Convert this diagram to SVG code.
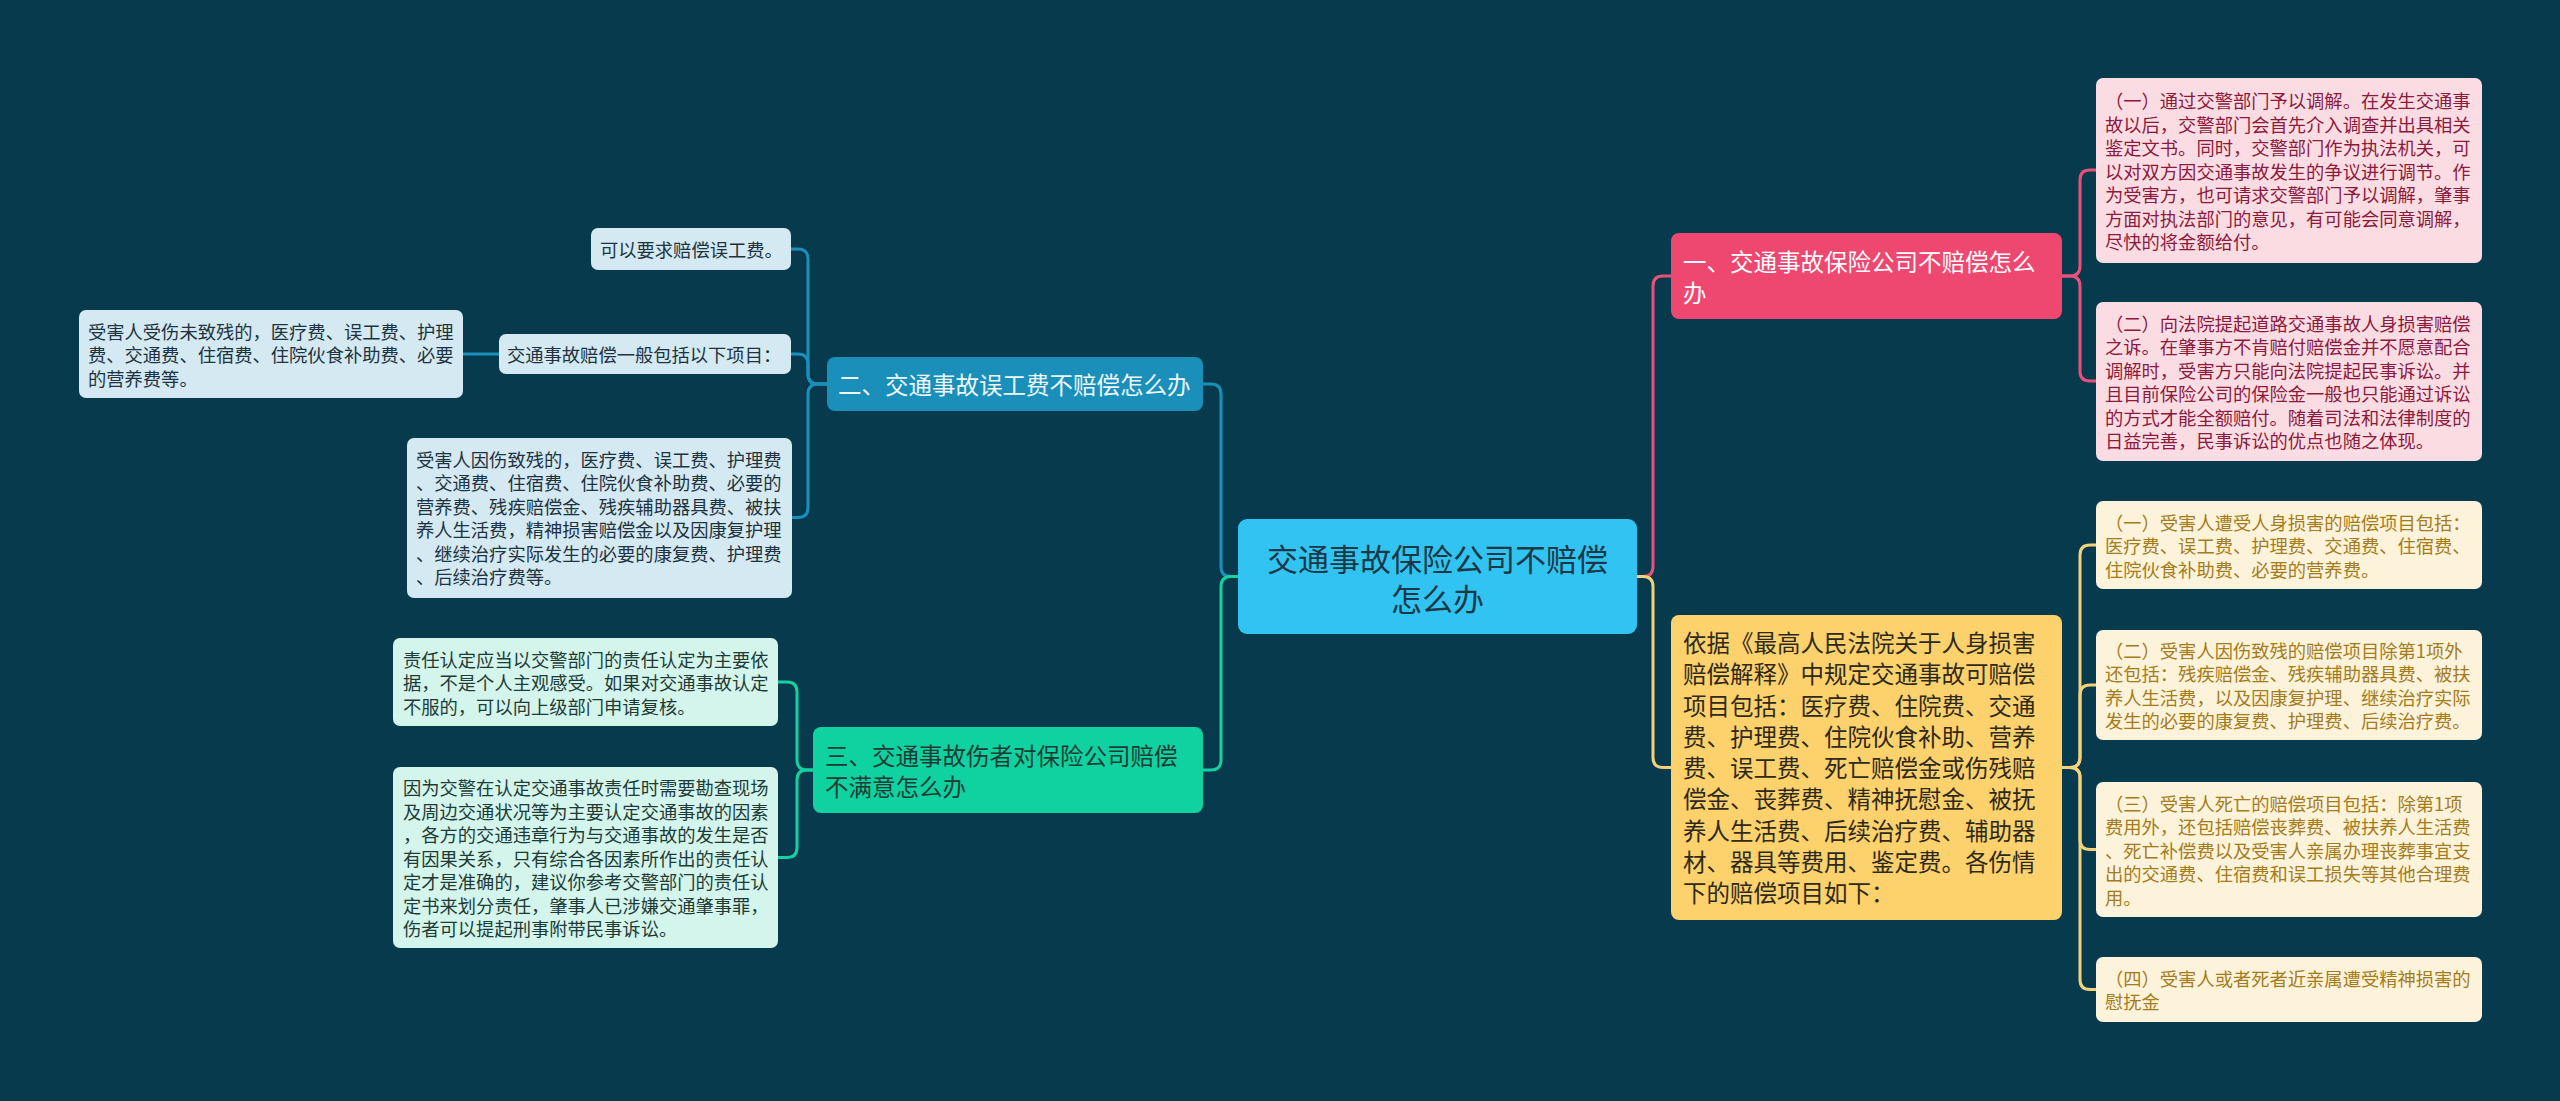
<svg xmlns="http://www.w3.org/2000/svg" width="2560" height="1101" viewBox="0 0 2560 1101">
<style>
text{font-family:"Noto Sans CJK SC","Noto Sans CJK JP",sans-serif;}
.leaf{font-size:18.3px;}
.mid{font-size:23.5px;}
.c{fill:none;stroke-width:3;stroke-linecap:round;stroke-linejoin:round;}
</style>
<rect width="2560" height="1101" fill="#083a4e"/>
<g id="connectors">
<path class="c" stroke="#e8507a" d="M1637,576.5 H1643 Q1653,576.5 1653,566.5 V286 Q1653,276 1663,276 H1671"/>
<path class="c" stroke="#f3d27a" d="M1637,576.5 H1643 Q1653,576.5 1653,586.5 V757.5 Q1653,767.5 1663,767.5 H1671"/>
<path class="c" stroke="#e8507a" d="M2062,276 H2070 Q2080,276 2080,266 V180 Q2080,170 2090,170 H2096"/>
<path class="c" stroke="#e8507a" d="M2062,276 H2070 Q2080,276 2080,286 V371 Q2080,381 2090,381 H2096"/>
<path class="c" stroke="#f3d27a" d="M2062,767.5 H2070 Q2080,767.5 2080,757.5 V555 Q2080,545 2090,545 H2096"/>
<path class="c" stroke="#f3d27a" d="M2062,767.5 H2070 Q2080,767.5 2080,757.5 V695 Q2080,685 2090,685 H2096"/>
<path class="c" stroke="#f3d27a" d="M2062,767.5 H2070 Q2080,767.5 2080,777.5 V839.5 Q2080,849.5 2090,849.5 H2096"/>
<path class="c" stroke="#f3d27a" d="M2062,767.5 H2070 Q2080,767.5 2080,777.5 V979.5 Q2080,989.5 2090,989.5 H2096"/>
<path class="c" stroke="#1a8fbb" d="M1238,576.5 H1231 Q1221,576.5 1221,566.5 V394 Q1221,384 1211,384 H1203"/>
<path class="c" stroke="#14d1a2" d="M1238,576.5 H1231 Q1221,576.5 1221,586.5 V760 Q1221,770 1211,770 H1203"/>
<path class="c" stroke="#1a8fbb" d="M827,384 H818 Q808,384 808,374 V259 Q808,249 798,249 H791"/>
<path class="c" stroke="#1a8fbb" d="M827,384 H818 Q808,384 808,374 V364 Q808,354 798,354 H791"/>
<path class="c" stroke="#1a8fbb" d="M827,384 H818 Q808,384 808,394 V507.5 Q808,517.5 798,517.5 H792"/>
<path class="c" stroke="#1a8fbb" d="M499,354 H463"/>
<path class="c" stroke="#14d1a2" d="M813,770 H807 Q797,770 797,760 V692 Q797,682 787,682 H778"/>
<path class="c" stroke="#14d1a2" d="M813,770 H807 Q797,770 797,780 V847.5 Q797,857.5 787,857.5 H778"/>
</g>
<g id="root">
<rect x="1238" y="519" width="399" height="115" rx="9" fill="#31c3f2"/>
<text x="1437.5" y="570.5" text-anchor="middle" font-size="31" fill="#1b3846">交通事故保险公司不赔偿</text>
<text x="1437.5" y="610.5" text-anchor="middle" font-size="31" fill="#1b3846">怎么办</text>
</g>
<g id="n1">
<rect x="1671" y="233" width="391" height="86" rx="8" fill="#ef4870"/>
<text class="mid" x="1683" y="270.5" fill="#ffffff">一、交通事故保险公司不赔偿怎么</text>
<text class="mid" x="1683" y="301.5" fill="#ffffff">办</text>
</g>
<g id="n1a">
<rect x="2096" y="78" width="386" height="185" rx="7" fill="#fbdce3"/>
<g class="leaf" fill="#8b1a3c">
<text x="2105" y="108">（一）通过交警部门予以调解。在发生交通事</text>
<text x="2105" y="131.5">故以后，交警部门会首先介入调查并出具相关</text>
<text x="2105" y="155">鉴定文书。同时，交警部门作为执法机关，可</text>
<text x="2105" y="178.5">以对双方因交通事故发生的争议进行调节。作</text>
<text x="2105" y="202">为受害方，也可请求交警部门予以调解，肇事</text>
<text x="2105" y="225.5">方面对执法部门的意见，有可能会同意调解，</text>
<text x="2105" y="249">尽快的将金额给付。</text>
</g>
</g>
<g id="n1b">
<rect x="2096" y="302" width="386" height="159" rx="7" fill="#fbdce3"/>
<g class="leaf" fill="#8b1a3c">
<text x="2105" y="330.75">（二）向法院提起道路交通事故人身损害赔偿</text>
<text x="2105" y="354.25">之诉。在肇事方不肯赔付赔偿金并不愿意配合</text>
<text x="2105" y="377.75">调解时，受害方只能向法院提起民事诉讼。并</text>
<text x="2105" y="401.25">且目前保险公司的保险金一般也只能通过诉讼</text>
<text x="2105" y="424.75">的方式才能全额赔付。随着司法和法律制度的</text>
<text x="2105" y="448.25">日益完善，民事诉讼的优点也随之体现。</text>
</g>
</g>
<g id="n4">
<rect x="1671" y="615" width="391" height="305" rx="8" fill="#fdd16c"/>
<g class="mid" fill="#2d2a1c">
<text x="1683" y="652">依据《最高人民法院关于人身损害</text>
<text x="1683" y="683.25">赔偿解释》中规定交通事故可赔偿</text>
<text x="1683" y="714.5">项目包括：医疗费、住院费、交通</text>
<text x="1683" y="745.75">费、护理费、住院伙食补助、营养</text>
<text x="1683" y="777">费、误工费、死亡赔偿金或伤残赔</text>
<text x="1683" y="808.25">偿金、丧葬费、精神抚慰金、被抚</text>
<text x="1683" y="839.5">养人生活费、后续治疗费、辅助器</text>
<text x="1683" y="870.75">材、器具等费用、鉴定费。各伤情</text>
<text x="1683" y="902">下的赔偿项目如下：</text>
</g>
</g>
<g id="n4a">
<rect x="2096" y="501" width="386" height="88" rx="7" fill="#fdf3da"/>
<g class="leaf" fill="#a47c1c">
<text x="2105" y="529.5">（一）受害人遭受人身损害的赔偿项目包括：</text>
<text x="2105" y="553">医疗费、误工费、护理费、交通费、住宿费、</text>
<text x="2105" y="576.5">住院伙食补助费、必要的营养费。</text>
</g>
</g>
<g id="n4b">
<rect x="2096" y="630" width="386" height="110" rx="7" fill="#fdf3da"/>
<g class="leaf" fill="#a47c1c">
<text x="2105" y="657.75">（二）受害人因伤致残的赔偿项目除第1项外</text>
<text x="2105" y="681.25">还包括：残疾赔偿金、残疾辅助器具费、被扶</text>
<text x="2105" y="704.75">养人生活费，以及因康复护理、继续治疗实际</text>
<text x="2105" y="728.25">发生的必要的康复费、护理费、后续治疗费。</text>
</g>
</g>
<g id="n4c">
<rect x="2096" y="782" width="386" height="135" rx="7" fill="#fdf3da"/>
<g class="leaf" fill="#a47c1c">
<text x="2105" y="810.5">（三）受害人死亡的赔偿项目包括：除第1项</text>
<text x="2105" y="834">费用外，还包括赔偿丧葬费、被扶养人生活费</text>
<text x="2105" y="857.5">、死亡补偿费以及受害人亲属办理丧葬事宜支</text>
<text x="2105" y="881">出的交通费、住宿费和误工损失等其他合理费</text>
<text x="2105" y="904.5">用。</text>
</g>
</g>
<g id="n4d">
<rect x="2096" y="957" width="386" height="65" rx="7" fill="#fdf3da"/>
<g class="leaf" fill="#a47c1c">
<text x="2105" y="985.75">（四）受害人或者死者近亲属遭受精神损害的</text>
<text x="2105" y="1009.25">慰抚金</text>
</g>
</g>
<g id="n2">
<rect x="827" y="357" width="376" height="54" rx="8" fill="#1a8fba"/>
<text class="mid" x="838" y="394" fill="#eef7fa">二、交通事故误工费不赔偿怎么办</text>
</g>
<g id="n2a">
<rect x="591" y="228" width="200" height="42" rx="7" fill="#d4e9f1"/>
<text class="leaf" x="600" y="257" fill="#1d3341">可以要求赔偿误工费。</text>
</g>
<g id="n2b">
<rect x="499" y="334" width="292" height="40" rx="7" fill="#d4e9f1"/>
<text class="leaf" x="507" y="362" fill="#1d3341">交通事故赔偿一般包括以下项目：</text>
</g>
<g id="n2b1">
<rect x="79" y="310" width="384" height="88" rx="7" fill="#d4e9f1"/>
<g class="leaf" fill="#1d3341">
<text x="88" y="338.5">受害人受伤未致残的，医疗费、误工费、护理</text>
<text x="88" y="362">费、交通费、住宿费、住院伙食补助费、必要</text>
<text x="88" y="385.5">的营养费等。</text>
</g>
</g>
<g id="n2c">
<rect x="407" y="438" width="385" height="160" rx="7" fill="#d4e9f1"/>
<g class="leaf" fill="#1d3341">
<text x="416" y="466.75">受害人因伤致残的，医疗费、误工费、护理费</text>
<text x="416" y="490.25">、交通费、住宿费、住院伙食补助费、必要的</text>
<text x="416" y="513.75">营养费、残疾赔偿金、残疾辅助器具费、被扶</text>
<text x="416" y="537.25">养人生活费，精神损害赔偿金以及因康复护理</text>
<text x="416" y="560.75">、继续治疗实际发生的必要的康复费、护理费</text>
<text x="416" y="584.25">、后续治疗费等。</text>
</g>
</g>
<g id="n3">
<rect x="813" y="727" width="390" height="86" rx="8" fill="#10d1a0"/>
<text class="mid" x="825" y="764.5" fill="#1b3c35">三、交通事故伤者对保险公司赔偿</text>
<text class="mid" x="825" y="795.5" fill="#1b3c35">不满意怎么办</text>
</g>
<g id="n3a">
<rect x="393" y="638" width="385" height="88" rx="7" fill="#d3f5ec"/>
<g class="leaf" fill="#1e3b37">
<text x="403" y="666.5">责任认定应当以交警部门的责任认定为主要依</text>
<text x="403" y="690">据，不是个人主观感受。如果对交通事故认定</text>
<text x="403" y="713.5">不服的，可以向上级部门申请复核。</text>
</g>
</g>
<g id="n3b">
<rect x="393" y="767" width="385" height="181" rx="7" fill="#d3f5ec"/>
<g class="leaf" fill="#1e3b37">
<text x="403" y="795">因为交警在认定交通事故责任时需要勘查现场</text>
<text x="403" y="818.5">及周边交通状况等为主要认定交通事故的因素</text>
<text x="403" y="842">，各方的交通违章行为与交通事故的发生是否</text>
<text x="403" y="865.5">有因果关系，只有综合各因素所作出的责任认</text>
<text x="403" y="889">定才是准确的，建议你参考交警部门的责任认</text>
<text x="403" y="912.5">定书来划分责任，肇事人已涉嫌交通肇事罪，</text>
<text x="403" y="936">伤者可以提起刑事附带民事诉讼。</text>
</g>
</g>
</svg>
